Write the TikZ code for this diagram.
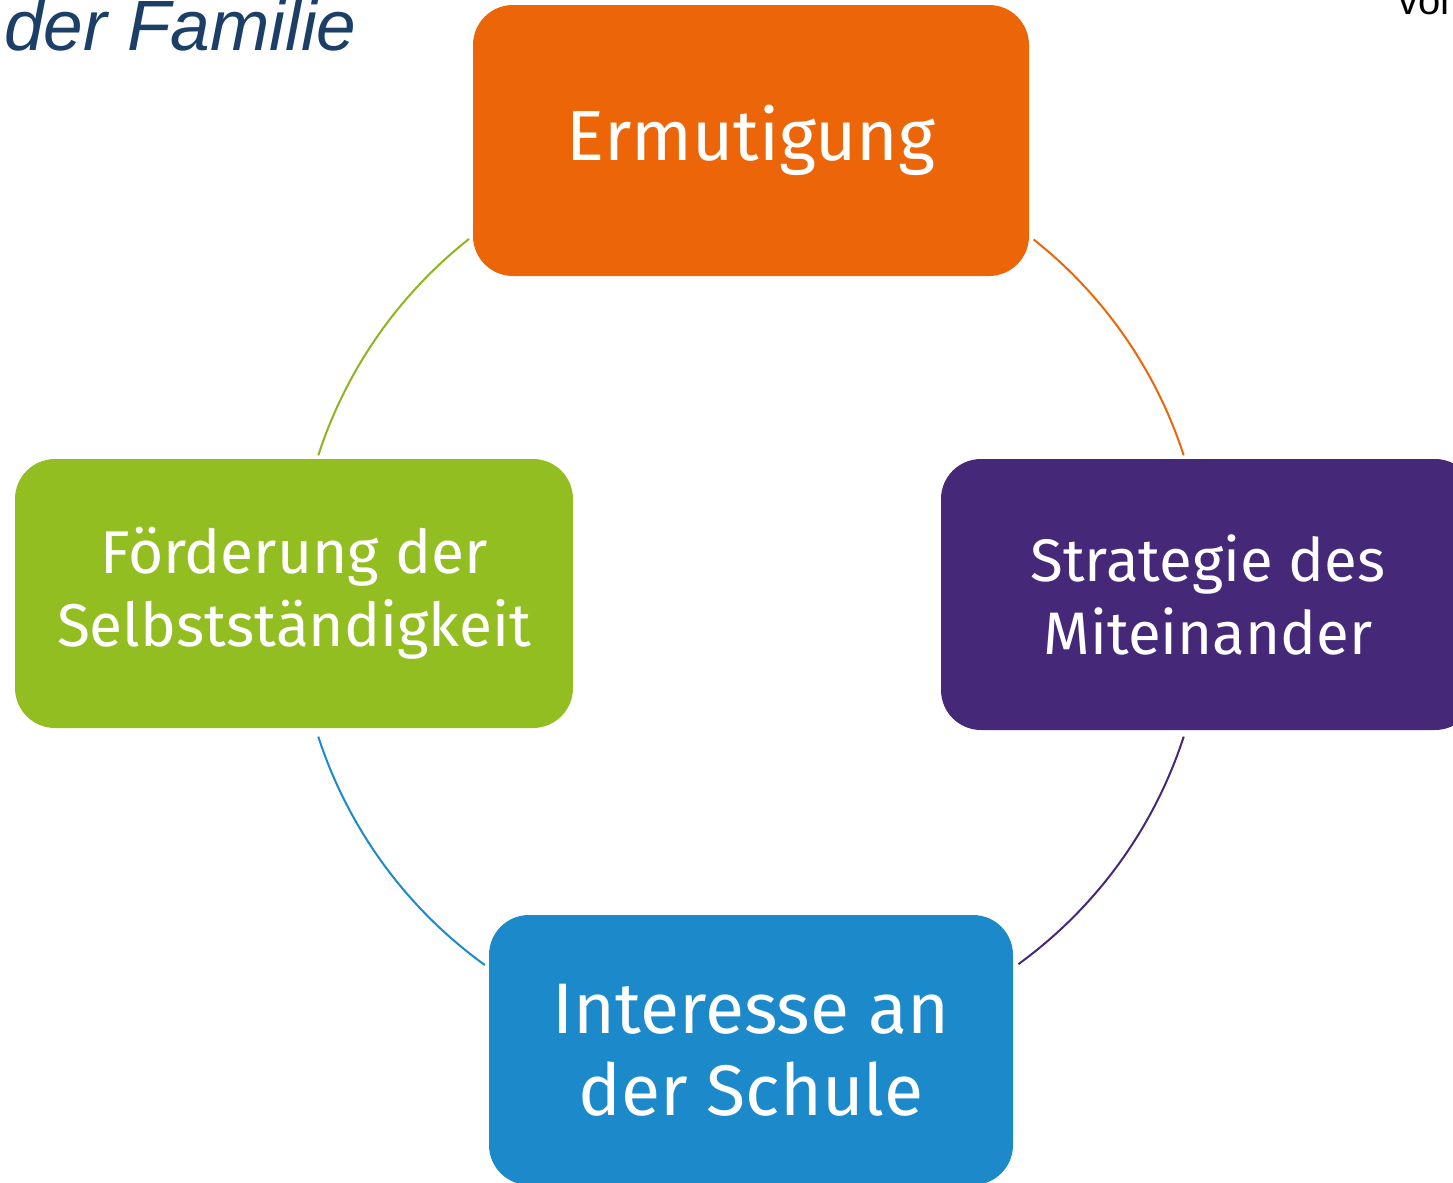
\documentclass[tikz,border=0pt]{standalone}
\usepackage{fontspec}
\setmainfont{Fira Sans}
\newfontfamily\titlefont{Liberation Sans}
\definecolor{cOrange}{HTML}{EC6609}
\definecolor{cGreen}{HTML}{93BE22}
\definecolor{cPurple}{HTML}{452878}
\definecolor{cBlue}{HTML}{1C8ACA}
\definecolor{cTitle}{HTML}{1B3F66}
\begin{document}
\begin{tikzpicture}[x=0.5pt,y=-0.5pt,
  rbox/.style={rounded corners=20pt, inner sep=0pt, text=white, align=center},
  ring/.style={line width=1pt}]
\useasboundingbox (0,0) rectangle (1453,1183);
\clip (0,0) rectangle (1453,1183);
% boxes
\node[rbox, fill=cOrange, minimum width=278pt, minimum height=135.5pt, font=\fontsize{35.5}{42}\selectfont] (erm) at (751,140.5) {Ermutigung};
\node[rbox, fill=cGreen, minimum width=279pt, minimum height=134.5pt, font=\fontsize{30.2}{36.5}\selectfont] (foe) at (294,593.5) {Förderung der\\Selbstständigkeit};
\node[rbox, fill=cPurple, minimum width=267pt, minimum height=135.5pt, font=\fontsize{30}{36.5}\selectfont] (str) at (1208,594.5) {Strategie des\\Miteinander};
\node[rbox, fill=cBlue, minimum width=262pt, minimum height=135pt, font=\fontsize{35.8}{41}\selectfont] (int) at (751,1050) {Interesse an\\der Schule};
% ring segments
\coordinate (c) at (751,596);
\draw[ring, cOrange] (c) ++(51.6:227.5pt) arc[start angle=51.6, end angle=18, radius=227.5pt];
\draw[ring, cPurple] (c) ++(-18:227.5pt) arc[start angle=-18, end angle=-54, radius=227.5pt];
\draw[ring, cBlue] (c) ++(234.2:227.5pt) arc[start angle=234.2, end angle=198, radius=227.5pt];
\draw[ring, cGreen!95!black] (c) ++(162:227.5pt) arc[start angle=162, end angle=128.3, radius=227.5pt];
% texts at the edges (cut off by the frame, as in the original)
\node[anchor=base west, inner sep=0pt, text=cTitle, font=\titlefont\itshape\fontsize{35.6}{42}\selectfont] (fam) at (4,50) {der Familie};
\node[anchor=base west, inner sep=0pt, text=black, font=\titlefont\fontsize{20}{24}\selectfont] (von) at (1398,15) {von};
\end{tikzpicture}
\end{document}
